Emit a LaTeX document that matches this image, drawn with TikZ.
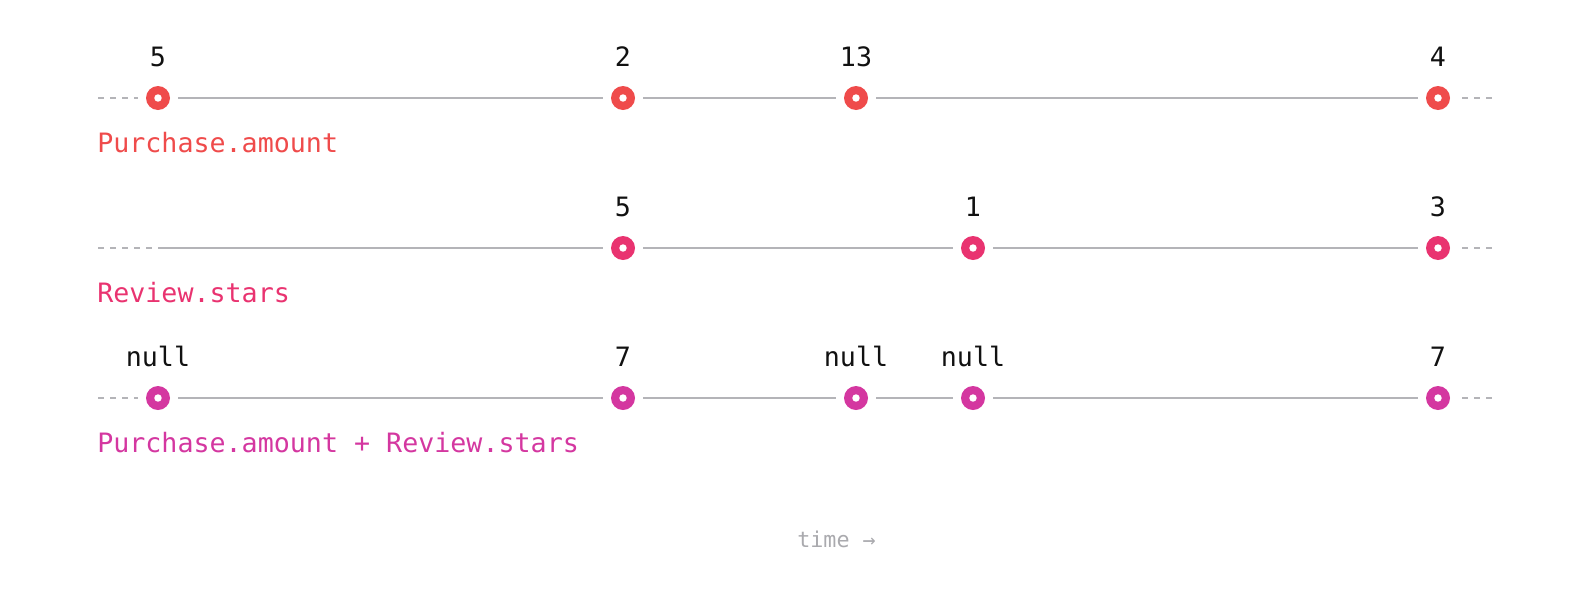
\documentclass[tikz,border=0pt]{standalone}
\usepackage{fontspec}
\setmainfont{DejaVu Sans Mono}
\definecolor{cred}{RGB}{239,75,75}
\definecolor{cpink}{RGB}{233,51,112}
\definecolor{cmag}{RGB}{212,55,160}
\definecolor{cline}{RGB}{180,180,184}
\definecolor{ctime}{RGB}{170,170,174}
\definecolor{ctext}{RGB}{17,17,17}
\tikzset{
  evt/.style={circle, fill=#1, draw=none, minimum size=18pt, inner sep=0pt, outer sep=0pt,
    path picture={\fill[white] (path picture bounding box.center) circle (2.8pt);}},
  val/.style={anchor=base, text=ctext, font=\fontsize{20}{24}\selectfont, inner sep=0pt},
  rowlab/.style={anchor=base west, text=#1, font=\fontsize{20}{24}\selectfont, inner sep=0pt},
  seg/.style={draw=cline, line width=1.5pt, shorten <=6pt, shorten >=6pt},
  dseg/.style={draw=cline, line width=1.5pt, dash pattern=on 4.5pt off 4.5pt},
}
\begin{document}
\begin{tikzpicture}[x=0.75pt, y=-0.75pt]
\useasboundingbox (0,0) rectangle (1588,604);
% Row 1
\node[evt=cred] (a1) at (158,98) {};
\node[evt=cred] (a2) at (623,98) {};
\node[evt=cred] (a3) at (856,98) {};
\node[evt=cred] (a4) at (1438,98) {};
\coordinate (a0) at (98,98);
\coordinate (a5) at (1493,98);
\draw[dseg, shorten >=6pt] (a0) -- (a1);
\draw[seg] (a1) -- (a2);
\draw[seg] (a2) -- (a3);
\draw[seg] (a3) -- (a4);
\draw[dseg, shorten <=18pt] (a4.center) -- (a5);
\node[val] (va1) at (158,66) {5};
\node[val] (va2) at (623,66) {2};
\node[val] (va3) at (856,66) {13};
\node[val] (va4) at (1438,66) {4};
\node[rowlab=cred] (la) at (97,152) {Purchase.amount};
% Row 2
\node[evt=cpink] (b1) at (623,248) {};
\node[evt=cpink] (b2) at (973,248) {};
\node[evt=cpink] (b3) at (1438,248) {};
\coordinate (b0) at (98,248);
\coordinate (bm) at (152,248);
\coordinate (bs) at (158,248);
\coordinate (b4) at (1493,248);
\draw[dseg] (b0) -- (bm);
\draw[draw=cline, line width=1.5pt, shorten >=6pt] (bs) -- (b1);
\draw[seg] (b1) -- (b2);
\draw[seg] (b2) -- (b3);
\draw[dseg, shorten <=18pt] (b3.center) -- (b4);
\node[val] (vb1) at (623,216) {5};
\node[val] (vb2) at (973,216) {1};
\node[val] (vb3) at (1438,216) {3};
\node[rowlab=cpink] (lb) at (97,302) {Review.stars};
% Row 3
\node[evt=cmag] (c1) at (158,398) {};
\node[evt=cmag] (c2) at (623,398) {};
\node[evt=cmag] (c3) at (856,398) {};
\node[evt=cmag] (c4) at (973,398) {};
\node[evt=cmag] (c5) at (1438,398) {};
\coordinate (c0) at (98,398);
\coordinate (c6) at (1493,398);
\draw[dseg, shorten >=6pt] (c0) -- (c1);
\draw[seg] (c1) -- (c2);
\draw[seg] (c2) -- (c3);
\draw[seg] (c3) -- (c4);
\draw[seg] (c4) -- (c5);
\draw[dseg, shorten <=18pt] (c5.center) -- (c6);
\node[val] (vc1) at (158,366) {null};
\node[val] (vc2) at (623,366) {7};
\node[val] (vc3) at (856,366) {null};
\node[val] (vc4) at (973,366) {null};
\node[val] (vc5) at (1438,366) {7};
\node[rowlab=cmag] (lc) at (97,452) {Purchase.amount + Review.stars};
% time
\node[anchor=base west, text=ctime, font=\fontsize{16.3}{19}\selectfont, inner sep=0pt] (time) at (797,547) {time →};
\end{tikzpicture}
\end{document}
